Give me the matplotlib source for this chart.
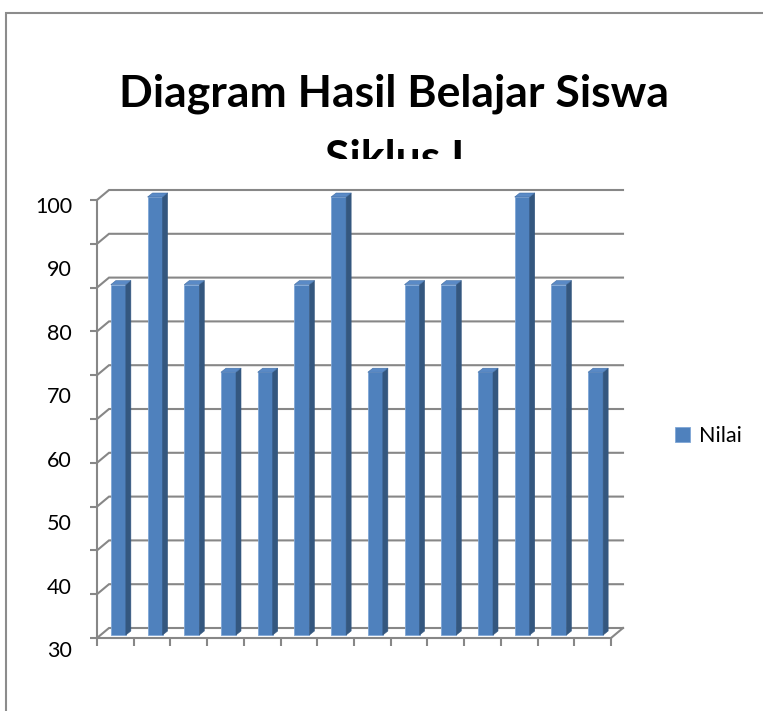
import numpy as np
import matplotlib
matplotlib.use("Agg")
import matplotlib.pyplot as plt
import matplotlib.transforms as mtransforms
from matplotlib.patches import Rectangle
from matplotlib.collections import PolyCollection

# =============================================================================
# data
# =============================================================================
siswa = np.arange(1, 15)
nilai = [90, 100, 90, 80, 80, 90, 100, 80, 90, 90, 80, 100, 90, 80]
grid_vals = np.arange(50, 101, 5)
y_labels = ["100", "90", "80", "70", "60", "50", "40", "30"]
title = "Diagram Hasil Belajar Siswa"
subtitle = "Siklus I"
series_name = "Nilai"

# =============================================================================
# style
# =============================================================================
W, H = 763, 711
FRONT = "#4F81BD"
SIDE = "#34577F"
TOP = "#5A8AC6"
GRID = "#878787"
FRAME = "#8C8C8C"
FONT = "Lato"

X0, X1, Y0, Y1 = 97, 611, 200, 638   # front plane of the 3-D box (px)
DX, DY = 12, 10                        # depth of the box (px)
BX, BY = 3, 3                          # bar depth position (px)
SX, SY = 5, 4                          # bar thickness (px)

fig = plt.figure(figsize=(W / 100, H / 100), dpi=100)
ax = fig.add_axes([X0 / W, 1 - Y1 / H, (X1 - X0) / W, (Y1 - Y0) / H])
n = len(nilai)
ax.set_xlim(0, n)
ax.set_ylim(grid_vals[0], grid_vals[-1])
ax.patch.set_visible(False)

ux = (X1 - X0) / n
uy = (Y1 - Y0) / (grid_vals[-1] - grid_vals[0])
dx, dy = DX / ux, DY / uy

# back wall + left wall gridlines
for v in grid_vals:
    ax.plot([0, dx, n + dx], [v, v + dy, v + dy], color=GRID, lw=1.5,
            clip_on=False, zorder=1, solid_joinstyle="miter")
# floor right edge
ax.plot([n, n + dx], [grid_vals[0], grid_vals[0] + dy], color=GRID, lw=1.5,
        clip_on=False, zorder=1)

# axis lines and ticks
for s in ["top", "right"]:
    ax.spines[s].set_visible(False)
for s in ["left", "bottom"]:
    ax.spines[s].set_color(GRID)
    ax.spines[s].set_linewidth(1.5)
ax.set_xticks(np.arange(n + 1))
ax.set_xticklabels([])
ax.set_yticks(grid_vals)
ax.set_yticklabels([])
ax.tick_params(axis="y", direction="out", length=5, width=1.5, color=GRID)
ax.tick_params(axis="x", direction="out", length=6, width=1.5, color=GRID)

# bars (front face + dark side + top)
bw = 15 / ux
off = mtransforms.ScaledTranslation(BX / 100, BY / 100, fig.dpi_scale_trans)
xc = siswa - 0.5
base = grid_vals[0]
heights = np.array(nilai) - base
ax.bar(xc, heights, bottom=base, width=bw, color=FRONT, edgecolor="#7FA6D6",
       linewidth=0.6, transform=ax.transData + off, clip_on=False, zorder=3,
       label=series_name)
sx, sy = SX / ux, SY / uy
sides, tops = [], []
for x, v in zip(xc, nilai):
    xl, xr = x - bw / 2, x + bw / 2
    sides.append([(xr, base), (xr, v), (xr + sx, v + sy), (xr + sx, base + sy)])
    tops.append([(xl, v), (xr, v), (xr + sx, v + sy), (xl + sx, v + sy)])
ax.add_collection(PolyCollection(sides, facecolors=SIDE, edgecolors=SIDE, linewidths=0.4,
                                 transform=ax.transData + off, clip_on=False, zorder=3))
ax.add_collection(PolyCollection(tops, facecolors=TOP, edgecolors="#3F6CA3", linewidths=0.4,
                                 transform=ax.transData + off, clip_on=False, zorder=3))

# axis labels, placed where the reference shows them
lab_frac = np.linspace((Y1 - 207) / (Y1 - Y0), (Y1 - 651) / (Y1 - Y0), len(y_labels))
for t, f in zip(y_labels, lab_frac):
    ax.text((72 - X0) / (X1 - X0), f, t, transform=ax.transAxes, ha="right", va="center",
            fontsize=15.5, family=FONT, color="black")

# legend
ax.legend(loc="center left", bbox_to_anchor=(675 / W, 1 - 436 / H),
          bbox_transform=fig.transFigure, frameon=False, borderpad=0, borderaxespad=0,
          handlelength=0.7, handleheight=0.7, handletextpad=0.4,
          prop={"family": FONT, "size": 15.5})

# titles (second line is cut off by the plot area, as in the reference)
fig.text(394 / W, 1 - 106 / H, title, ha="center", va="baseline", fontsize=32,
         fontweight="bold", family=FONT)
sub = fig.text(395 / W, 1 - 172 / H, subtitle, ha="center", va="baseline", fontsize=32,
               fontweight="bold", family=FONT)
sub.set_clip_box(mtransforms.TransformedBbox(
    mtransforms.Bbox.from_extents(0, 1 - 159 / H, 1, 1), fig.transFigure))
sub.set_clip_on(True)

# chart frame
fig.add_artist(Rectangle((6 / W, -0.1), 1.0, (H - 13) / H + 0.1, transform=fig.transFigure,
                         fill=False, edgecolor=FRAME, linewidth=1.5))

fig.savefig("out.png", dpi=100, facecolor="white")
